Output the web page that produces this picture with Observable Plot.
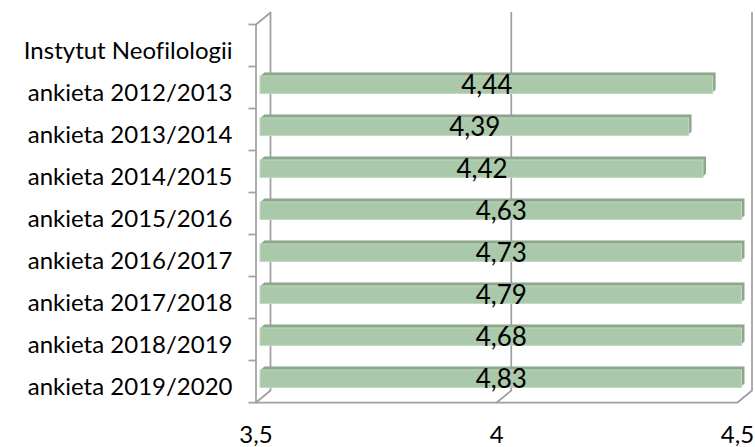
<!DOCTYPE html>
<html>
<head>
<meta charset="utf-8">
<script src="https://cdn.jsdelivr.net/npm/d3@7"></script>
<script src="https://cdn.jsdelivr.net/npm/@observablehq/plot@0.6"></script>
<style>
  html, body { margin: 0; padding: 0; background: #fff; }
  #chart svg { font-family: Lato, "Open Sans", sans-serif; font-variant-ligatures: none; }
</style>
</head>
<body>
<div id="chart"></div>
<script>
// ---- data ----
const groupLabel = "Instytut Neofilologii";
const surveys = [
  "ankieta 2012/2013", "ankieta 2013/2014", "ankieta 2014/2015", "ankieta 2015/2016",
  "ankieta 2016/2017", "ankieta 2017/2018", "ankieta 2018/2019", "ankieta 2019/2020"
];
const values = [4.44, 4.39, 4.42, 4.63, 4.73, 4.79, 4.68, 4.83];
const xTicks = [3.5, 4, 4.5];
const categories = [groupLabel, ...surveys];

// ---- derived ----
const xMin = 3.5, xMax = 4.5;
const fmt = v => String(v).replace(".", ",");
const rows = surveys.map((c, i) => ({cat: c, value: values[i], shown: Math.min(values[i], xMax)}));
const lastCat = categories[categories.length - 1];

// styling
const axisGray = "#a0a0a0";
const aw = 1.75;
const frontFill = "#aac9aa", topFill = "#8ea88e", sideFill = "#75907a";
const barInset = 12.25;
const barDx = 4.5, barDy = -2.3;     // bar front plane offset
const depthX = 4, depthY = -3.5;      // bar depth
const wallDx = 14.5, wallDy = -12;    // wall depth
const steps = [1, 0.8, 0.6, 0.4, 0.2];
const lineShape = {draw(ctx, l) { ctx.moveTo(0, 0); ctx.lineTo(0, -l); }};
const diagLen = Math.hypot(wallDx, wallDy);
const diagAngle = Math.atan2(wallDx, -wallDy) * 180 / Math.PI;

const depthMarks = steps.flatMap(t => [
  Plot.barX(rows, {x1: () => xMin, x2: "shown", y: "cat", fill: topFill,
    insetTop: barInset, insetBottom: barInset, insetRight: 1,
    dx: barDx + depthX * t, dy: barDy + depthY * t}),
  Plot.ruleX(rows, {x: "shown", y: "cat", stroke: sideFill, strokeWidth: 1.6,
    insetTop: barInset, insetBottom: barInset,
    dx: barDx + depthX * t - 0.8, dy: barDy + depthY * t})
]);

const chart = Plot.plot({
  width: 755,
  height: 447,
  marginLeft: 255.5,
  marginRight: 18,
  marginTop: 24,
  marginBottom: 45,
  x: {domain: [xMin, xMax], label: null},
  y: {domain: categories, padding: 0, label: null},
  marks: [
    // back wall gridlines
    Plot.ruleX(xTicks, {x: d => d, stroke: axisGray, strokeWidth: aw, dx: wallDx, dy: wallDy}),
    // floor diagonals
    Plot.vector(xTicks, {x: d => d, y: () => lastCat, dy: 21, anchor: "start",
      length: diagLen, rotate: diagAngle, shape: lineShape, stroke: axisGray, strokeWidth: aw}),
    // top-left diagonal of the side wall
    Plot.vector([xMin], {x: d => d, y: () => categories[0], dy: -21, anchor: "start",
      length: diagLen, rotate: diagAngle, shape: lineShape, stroke: axisGray, strokeWidth: aw}),
    // left wall front edge
    Plot.ruleX([xMin], {x: d => d, stroke: axisGray, strokeWidth: aw}),
    // left ticks at band boundaries
    Plot.ruleY(categories, {y: d => d, x1: () => xMin, x2: () => xMin, insetLeft: -7, dy: -21,
      stroke: axisGray, strokeWidth: aw}),
    // floor front line (with bottom-left tick)
    Plot.ruleY([lastCat], {y: d => d, x1: () => xMin, x2: () => xMax, insetLeft: -7, dy: 21,
      stroke: axisGray, strokeWidth: aw}),
    // bottom ticks
    Plot.ruleX(xTicks, {x: d => d, y: () => lastCat, insetTop: 34, insetBottom: 0, dy: 8,
      stroke: axisGray, strokeWidth: aw}),
    // bar depth (top + side faces)
    ...depthMarks,
    // bar front faces
    Plot.barX(rows, {x1: () => xMin, x2: "shown", y: "cat", fill: frontFill,
      stroke: "#c2d8c2", strokeWidth: 1,
      insetTop: barInset, insetBottom: barInset, dx: barDx, dy: barDy}),
    // value labels
    Plot.text(rows, {x: d => (xMin + d.shown) / 2, y: "cat", text: d => fmt(d.value),
      dx: barDx, dy: -1.5, fontSize: 26, fill: "#000"}),
    // axes
    Plot.axisY({tickSize: 0, tickPadding: 23.5, fontSize: 24, dy: 6, fill: "#000", label: null}),
    Plot.axisX(xTicks, {tickSize: 0, tickPadding: 23, fontSize: 24, fill: "#000",
      tickFormat: fmt, label: null})
  ]
});
document.getElementById("chart").appendChild(chart);
</script>
</body>
</html>
